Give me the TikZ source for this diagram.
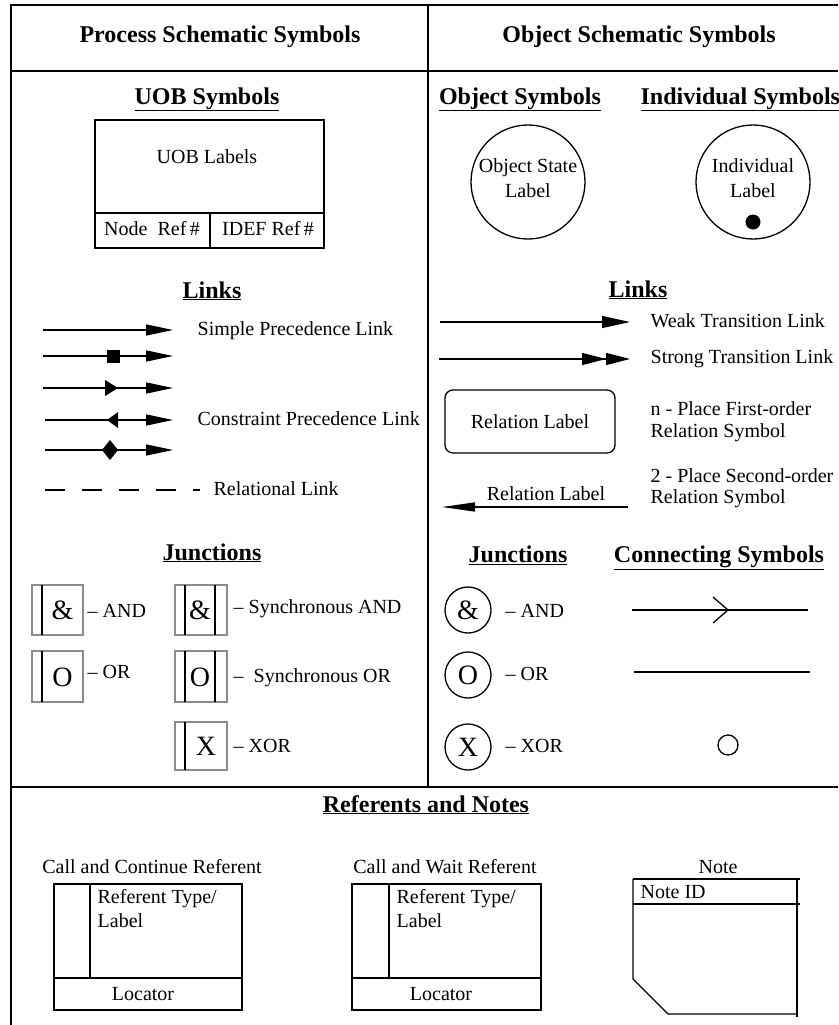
\documentclass[tikz,border=0pt]{standalone}
\usepackage{fontspec}
\setmainfont{Liberation Serif}
\usetikzlibrary{arrows.meta}
\begin{document}
\begin{tikzpicture}[x=1pt,y=-1pt,line width=1.3pt,
  txt/.style={font=\fontsize{20}{23}\selectfont,inner sep=0pt,anchor=base},
  txtw/.style={txt,anchor=base west},
  ttl/.style={font=\fontsize{24}{28}\selectfont\bfseries,inner sep=0pt,anchor=base},
  sym/.style={font=\fontsize{28}{30}\selectfont,inner sep=0pt},
  frame/.style={line width=1.5pt},
  tri/.style={-{Triangle[length=27pt,width=11pt]}},
  jbox/.style={draw=black!45,line width=1.8pt},
]
\useasboundingbox (0,0) rectangle (838,1025);
% frame
\draw[frame] (11,1025) -- (11,5) -- (838,5);
\draw[frame] (11,71) -- (838,71);
\draw[frame] (428,5) -- (428,787);
\draw[frame] (11,787) -- (838,787);

% titles
\node[ttl] (t1) at (220,43) {Process Schematic Symbols};
\node[ttl] (t2) at (639,43) {Object Schematic Symbols};

% UOB
\node[ttl] (uobh) at (207,104) {\underline{UOB Symbols}};
\draw (95,120) rectangle (324,248);
\draw (95,213) -- (324,213);
\draw (210,213) -- (210,248);
\node[txt] (uobl) at (207,163) {UOB Labels};
\node[txt] (noderef) at (152,235) {Node\ \ Ref\,\#};
\node[txt] (idefref) at (268,235) {IDEF Ref\,\#};

% Object symbols
\node[ttl] (objh) at (520,104) {\underline{Object Symbols}};
\node[ttl,anchor=base west] (indh) at (640,104) {\underline{Individual Symbols}};
\node[draw,circle,minimum size=114pt,inner sep=0pt] (objc) at (528,182) {};
\node[txt] (objt1) at (528,172) {Object State};
\node[txt] (objt2) at (528,197) {Label};
\node[draw,circle,minimum size=114pt,inner sep=0pt] (indc) at (753,182) {};
\node[txt] (indt1) at (753,172) {Individual};
\node[txt] (indt2) at (753,197) {Label};
\node[fill,circle,minimum size=15pt,inner sep=0pt] (inddot) at (753,222) {};

% Links left
\node[ttl] (lkl) at (212,298) {\underline{Links}};
\coordinate (a1s) at (43,330); \coordinate (a1e) at (173,330);
\coordinate (a2s) at (43,356); \coordinate (a2e) at (173,356);
\coordinate (a3s) at (43,388); \coordinate (a3e) at (173,388);
\coordinate (a4s) at (45,420); \coordinate (a4e) at (173,420);
\coordinate (a5s) at (45,450); \coordinate (a5e) at (173,450);
\draw[tri] (a1s) -- (a1e);
\draw[tri] (a2s) -- (a2e);
\draw[tri] (a3s) -- (a3e);
\draw[tri] (a4s) -- (a4e);
\draw[tri] (a5s) -- (a5e);
\fill (106.5,349.5) rectangle (119.5,362.5);
\fill (105,380) -- (118,388) -- (105,396) -- cycle;
\fill (107,420) -- (118,412) -- (118,428) -- cycle;
\fill (110,440) -- (118,450) -- (110,460) -- (102,450) -- cycle;
\coordinate (r1s) at (45,490); \coordinate (r1e) at (200,490);
\draw[dash pattern=on 20pt off 17pt] (r1s) -- (r1e);
\node[txtw] (lk1) at (197,335) {Simple Precedence Link};
\node[txtw] (lk2) at (197,425) {Constraint Precedence Link};
\node[txtw] (lk3) at (213,495) {Relational Link};

% Links right
\node[ttl] (lkr) at (638,297) {\underline{Links}};
\coordinate (w1s) at (440,322); \coordinate (w1e) at (630,322);
\draw[-{Triangle[length=28pt,width=12pt]}] (w1s) -- (w1e);
\coordinate (s1s) at (439,359); \coordinate (s1e) at (630,359);
\draw[-{Triangle[length=24pt,width=12pt,sep=0pt]Triangle[length=24pt,width=12pt]}] (s1s) -- (s1e);
\node[txtw] (wk) at (650,327) {Weak Transition Link};
\node[txtw] (st) at (650,363) {Strong Transition Link};
\node[draw,rounded corners=8pt,minimum width=170pt,minimum height=63pt,inner sep=0pt] (rel1) at (530,421.5) {};
\node[txt] (rel1t) at (530,428) {Relation Label};
\node[txtw] (np1) at (650,415) {n - Place First-order};
\node[txtw] (np2) at (650,437) {Relation Symbol};
\coordinate (p2s) at (628,507); \coordinate (p2e) at (442,507);
\draw[-{Triangle[length=33pt,width=9pt]}] (p2s) -- (p2e);
\node[txt] (rel2t) at (546,500) {Relation Label};
\node[txtw] (tp1) at (650,482) {2 - Place Second-order};
\node[txtw] (tp2) at (650,503) {Relation Symbol};

% Junctions left
\node[ttl] (jl) at (212,560) {\underline{Junctions}};
\draw[jbox] (32,585) rectangle (83,635); \draw (42,585) -- (42,635);
\node[sym] (jand) at (62.5,610) {\&};
\node[txtw] (jandt) at (87,617) {– AND};
\draw[jbox] (32,651) rectangle (83,702); \draw (42,651) -- (42,702);
\node[sym] (jor) at (62.5,677) {O};
\node[txtw] (jort) at (87,678) {– OR};
\draw[jbox] (175,585) rectangle (227,635); \draw (185,585) -- (185,635); \draw (215,585) -- (215,635);
\node[sym] (sand) at (200,610) {\&};
\node[txtw] (sandt) at (233,613) {– Synchronous AND};
\draw[jbox] (175,651) rectangle (227,702); \draw (185,651) -- (185,702); \draw (215,651) -- (215,702);
\node[sym] (sor) at (200,677) {O};
\node[txtw] (sort) at (233,682) {–\ \ Synchronous OR};
\draw[jbox] (175,722) rectangle (227,770); \draw (185,722) -- (185,770);
\node[sym] (jxor) at (206,746) {X};
\node[txtw] (jxort) at (233,752) {– XOR};

% Junctions right
\node[ttl] (jr) at (518,562) {\underline{Junctions}};
\node[ttl] (cs) at (719,562) {\underline{Connecting Symbols}};
\node[draw,circle,minimum size=46pt,inner sep=0pt] (cand) at (468,610) {};
\node[sym] (candt) at (468,610) {\&};
\node[txtw] (candl) at (505,617) {– AND};
\node[draw,circle,minimum size=46pt,inner sep=0pt] (cor) at (468,675) {};
\node[sym] (cort) at (468,675) {O};
\node[txtw] (corl) at (505,680) {– OR};
\node[draw,circle,minimum size=46pt,inner sep=0pt] (cxor) at (468,747) {};
\node[sym] (cxort) at (468,747) {X};
\node[txtw] (cxorl) at (505,752) {– XOR};
\coordinate (c1s) at (632,610); \coordinate (c1e) at (808,610);
\draw (c1s) -- (c1e);
\draw (713,597) -- (728,610) -- (713,623);
\coordinate (c2s) at (634,672); \coordinate (c2e) at (810,672);
\draw (c2s) -- (c2e);
\node[draw,circle,minimum size=20pt,inner sep=0pt] (csc) at (728,745) {};

% Referents and notes
\node[ttl] (rn) at (426,812) {\underline{Referents and Notes}};
\node[txt] (ccr) at (152,873) {Call and Continue Referent};
\draw (54,884) rectangle (242,1010);
\draw (54,978) -- (242,978);
\draw (90,884) -- (90,978);
\node[txtw] (ccr1) at (97,903) {Referent Type/};
\node[txtw] (ccr2) at (97,927) {Label};
\node[txt] (ccr3) at (143,1000) {Locator};

\node[txt] (cwr) at (445,873) {Call and Wait Referent};
\draw (352,884) rectangle (541,1010);
\draw (352,978) -- (541,978);
\draw (389,884) -- (389,978);
\node[txtw] (cwr1) at (396,903) {Referent Type/};
\node[txtw] (cwr2) at (396,927) {Label};
\node[txt] (cwr3) at (441,1000) {Locator};

\node[txt] (nt) at (718,873) {Note};
\draw (633,879) -- (800,879);
\draw (797,879) -- (797,1017);
\draw (633,879) -- (633,979) -- (668,1014) -- (797,1014);
\draw (633,904) -- (800,904);
\node[txtw] (ntid) at (640,898) {Note ID};
\end{tikzpicture}
\end{document}
